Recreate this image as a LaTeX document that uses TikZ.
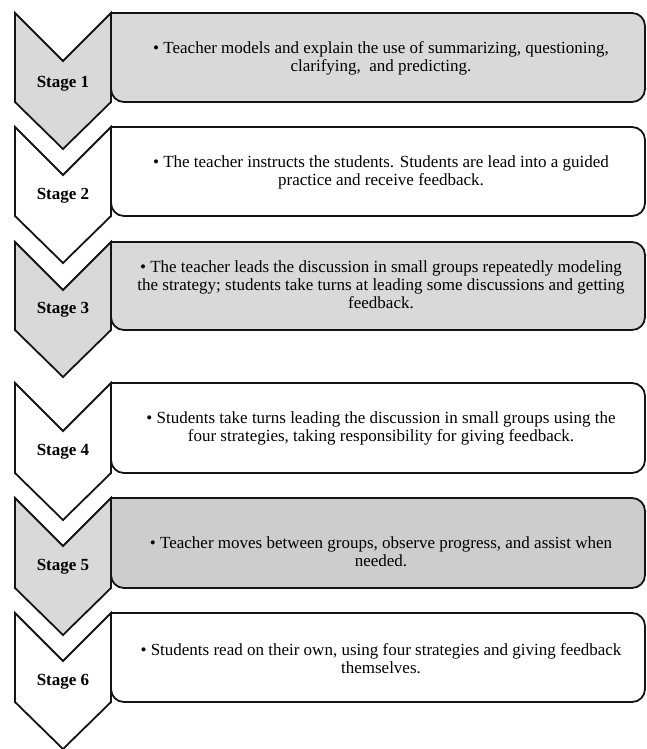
\documentclass[tikz,border=0pt]{standalone}
\usepackage{fontspec}
\setmainfont{Liberation Serif}
\definecolor{lgray}{HTML}{D9D9D9}
\definecolor{mgray}{HTML}{CDCDCD}
\definecolor{edge}{HTML}{141414}
\begin{document}
\begin{tikzpicture}[x=1pt,y=-1pt,
  shapeline/.style={draw=edge,line width=1.8pt,line join=miter},
  bodytext/.style={align=center,font=\fontsize{17}{18}\selectfont,inner sep=0pt},
  stagelabel/.style={font=\fontsize{17}{18}\selectfont\bfseries,inner sep=0pt}]
\useasboundingbox (0,0) rectangle (647,749);
% #1 top, #2 bottom, #3 chevron fill, #4 box fill
\newcommand\stagebox[4]{%
  \filldraw[shapeline,fill=#4,rounded corners=13pt]
    (111,#1) -- (645,#1) -- (645,#2) -- (111,#2) [sharp corners] -- cycle;
  \filldraw[shapeline,fill=#3]
    (15,#1) -- (63,#1+48) -- (111,#1) -- (111,#2) -- (63,#2+47) -- (15,#2) -- cycle;
}
\stagebox{13}{102}{lgray}{lgray}
\stagebox{127}{216}{white}{white}
\stagebox{242}{330}{lgray}{lgray}
\stagebox{383}{473}{white}{white}
\stagebox{498}{588}{lgray}{mgray}
\stagebox{613}{702}{white}{white}

\node[stagelabel] (s1) at (63,84) {Stage 1};
\node[stagelabel] (s2) at (63,196) {Stage 2};
\node[stagelabel] (s3) at (63,310) {Stage 3};
\node[stagelabel] (s4) at (63,452) {Stage 4};
\node[stagelabel] (s5) at (63,567) {Stage 5};
\node[stagelabel] (s6) at (63,682) {Stage 6};

\node[bodytext] (t1) at (381,58) {• Teacher models and explain the use of summarizing, questioning,\\clarifying,\ \ and predicting.};
\node[bodytext] (t2) at (381,172) {• The teacher instructs the students. Students are lead into a guided\\practice and receive feedback.};
\node[bodytext] (t3) at (381,285) {• The teacher leads the discussion in small groups repeatedly modeling\\the strategy; students take turns at leading some discussions and getting\\feedback.};
\node[bodytext] (t4) at (381,428) {• Students take turns leading the discussion in small groups using the\\four strategies, taking responsibility for giving feedback.};
\node[bodytext] (t5) at (381,552) {• Teacher moves between groups, observe progress, and assist when\\needed.};
\node[bodytext] (t6) at (381,659) {• Students read on their own, using four strategies and giving feedback\\themselves.};
\end{tikzpicture}
\end{document}
